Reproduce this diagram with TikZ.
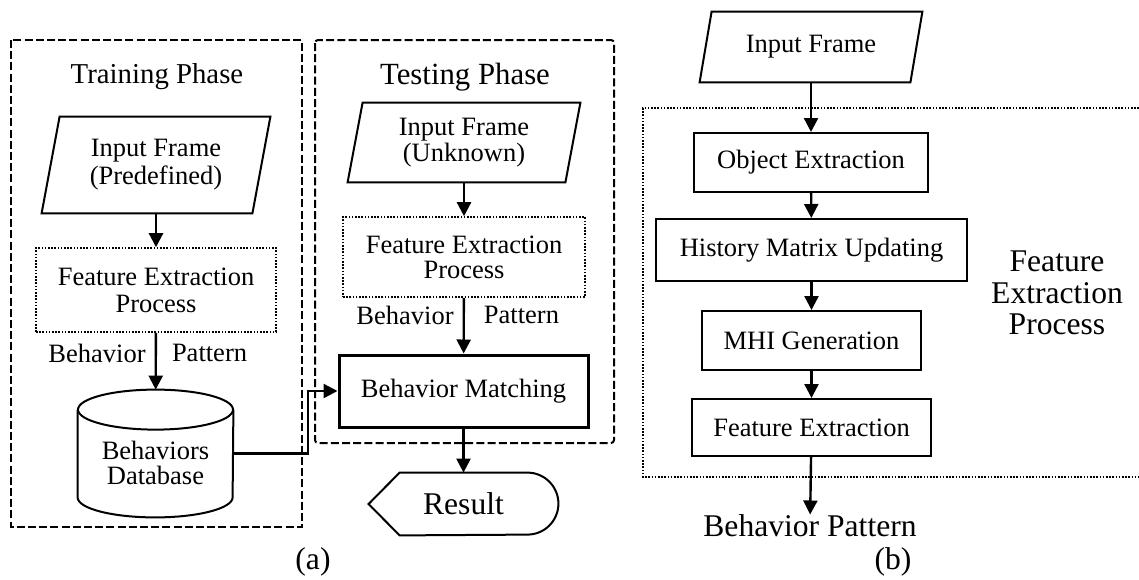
\documentclass[tikz,border=0pt]{standalone}
\usepackage{fontspec}
\setmainfont{Liberation Serif}
\usetikzlibrary{arrows.meta}

\begin{document}
\begin{tikzpicture}[x=0.5pt,y=-0.5pt,
    txt/.style={align=center,inner sep=0pt,font=\fontsize{13.25}{14}\selectfont},
    big/.style={align=center,inner sep=0pt,font=\fontsize{15.8}{15.75}\selectfont},
    box/.style={txt,draw,line width=1pt},
    line/.style={draw,line width=1pt},
    dots/.style={draw,line width=0.8pt,dash pattern=on 0.8pt off 0.8pt},
    phase/.style={draw,line width=1pt,dash pattern=on 4pt off 1.6pt},
    arr/.style={->,line width=1.2pt},
    >={Triangle[length=7pt,width=7pt]}]
  \useasboundingbox (0,0) rectangle (1139,579);

  % (a) training / testing
  \draw[phase] (11,40) rectangle (302,527);
  \draw[phase,rounded corners=1.5pt] (315,40) rectangle (614,443);
  \node[txt,font=\fontsize{14.4}{16}\selectfont] (train) at (157,77) {Training Phase};
  \node[txt,font=\fontsize{15.4}{16}\selectfont] (test) at (465,77) {Testing Phase};

  \node[txt,minimum width=114pt,minimum height=48pt] (in1) at (156,165) {Input Frame\\(Predefined)};
  \node[txt,dots,minimum width=120pt,minimum height=42pt,font=\fontsize{13.25}{13.5}\selectfont]
    (fe1) at (156,290) {Feature Extraction\\Process};
  \node[minimum width=77.5pt,minimum height=63.5pt,inner sep=0pt] (db) at (155.5,453.5) {};
  \node[txt,font=\fontsize{13.25}{12.5}\selectfont] (dbtxt) at (155.5,463) {Behaviors\\Database};

  \node[txt,minimum width=116pt,minimum height=39.5pt,font=\fontsize{13.25}{11.5}\selectfont]
    (in2) at (464,142.5) {Input Frame\\(Unknown)};
  \node[txt,dots,minimum width=121pt,minimum height=40pt,font=\fontsize{13.25}{12.5}\selectfont]
    (fe2) at (464,257) {Feature Extraction\\Process};
  \node[box,line width=1.5pt,minimum width=124.5pt,minimum height=36pt] (match) at (463.5,391) {Behavior Matching};
  \node[big,minimum width=94.5pt,minimum height=31pt] (res) at (463.5,504) {Result};
  \node[big] (capa) at (313,562) {(a)};

  % (b) feature extraction process
  \draw[dots] (1139,108) -- (643,108) -- (643,477) -- (1139,477);
  \node[txt,minimum width=111pt,minimum height=35pt] (in3) at (811,47) {Input Frame};
  \node[box,minimum width=117pt,minimum height=29.5pt] (obj) at (811,162.5) {Object Extraction};
  \node[box,minimum width=155.5pt,minimum height=31pt] (hist) at (811.5,250) {History Matrix Updating};
  \node[box,minimum width=109.5pt,minimum height=29.5pt] (mhi) at (811.5,340.5) {MHI Generation};
  \node[box,minimum width=119.5pt,minimum height=28.5pt] (fext) at (811.5,427.5) {Feature Extraction};
  \node[big] (bp) at (810,526) {Behavior Pattern};
  \node[big] (fepl) at (1057,293) {Feature\\Extraction\\Process};
  \node[big] (capb) at (893,562) {(b)};

  % outlines of the input, database and result shapes
  \foreach \n/\s in {in1/9pt,in2/7.5pt,in3/6pt}
    \draw[line] ([xshift=\s]\n.north west) -- (\n.north east)
      -- ([xshift=-\s]\n.south east) -- (\n.south west) -- cycle;
  \draw[line] ([yshift=-10pt]db.north west) -- ([yshift=10pt]db.south west)
    arc[start angle=180,end angle=360,x radius=38.75pt,y radius=10pt]
    -- ([yshift=-10pt]db.north east);
  \draw[line] ([yshift=-10pt]db.north) ellipse[x radius=38.75pt,y radius=10pt];
  \draw[line] (res.west) -- ([xshift=15.5pt]res.north west)
    -- ([xshift=-15.5pt]res.north east) arc[start angle=90,end angle=-90,radius=15.5pt]
    -- ([xshift=15.5pt]res.south west) -- cycle;

  % connectors
  \draw[arr] (in1) -- (fe1);
  \draw[arr] (fe1) -- node[pos=.36,left=4.5pt,txt]{Behavior} node[pos=.36,right=7.5pt,txt]{Pattern} (db);
  \draw[arr] (in2) -- (fe2);
  \draw[arr] (fe2) -- node[pos=.31,left=4.5pt,txt]{Behavior} node[pos=.31,right=9.5pt,txt]{Pattern} (match);
  \draw[arr] (match) -- (res);
  \coordinate (bend) at (308,453.5);
  \draw[arr] (db.east) -- (bend) |- (match.west);
  \foreach \a/\b in {in3/obj,obj/hist,hist/mhi,mhi/fext,fext/bp}
    \draw[arr] (\a) -- (\b);
\end{tikzpicture}
\end{document}
